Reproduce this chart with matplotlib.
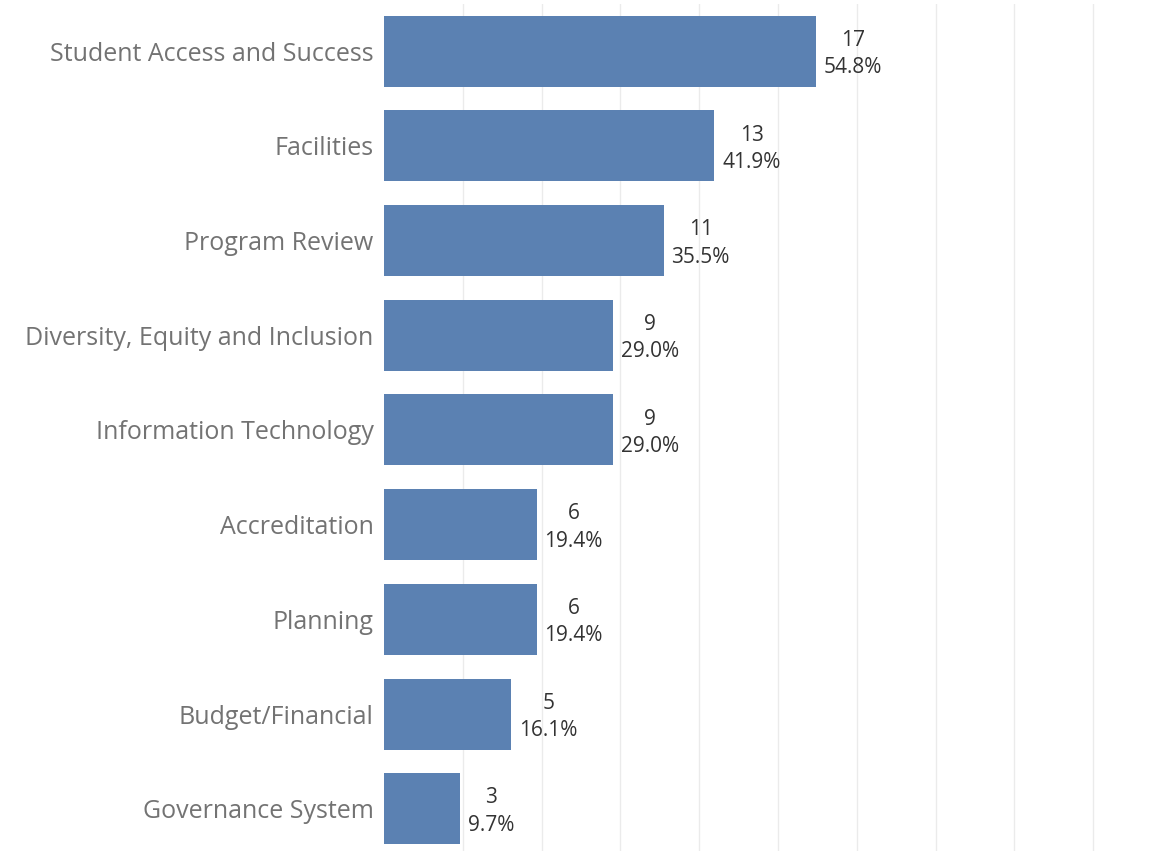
import matplotlib
matplotlib.use("Agg")
import matplotlib.pyplot as plt

categories = ["Student Access and Success", "Facilities", "Program Review",
              "Diversity, Equity and Inclusion", "Information Technology",
              "Accreditation", "Planning", "Budget/Financial", "Governance System"]
counts = [17, 13, 11, 9, 9, 6, 6, 5, 3]
total = 31
pct = [c / total * 100 for c in counts]

fig = plt.figure(figsize=(11.72, 8.51), dpi=100)
ax = fig.add_axes([384 / 1172, -5 / 851, 1 - 384 / 1172, 852 / 851])

ys = list(range(len(categories)))
ax.barh(ys, pct, height=0.75, color="#5b81b2", zorder=2)
ax.set_ylim(len(categories) - 0.5, -0.5)
ax.set_xlim(0, 100)
ax.set_xticks(range(10, 100, 10))
ax.grid(axis="x", color="#ebebeb", linewidth=1, zorder=0)
ax.tick_params(axis="x", bottom=False, labelbottom=False)
ax.tick_params(axis="y", left=False, pad=4, labelsize=18, labelcolor="#737373")
ax.set_yticks(ys)
ax.set_yticklabels(categories, family="Open Sans")
for s in ax.spines.values():
    s.set_visible(False)

for y, c, p in zip(ys, counts, pct):
    ax.text(p + 1.0, y + 0.03, f"{c}\n{p:.1f}%", ha="left", va="center",
            multialignment="center", fontsize=15, color="#333333",
            family="Open Sans", linespacing=1.38)

fig.savefig("out.png", dpi=100)
